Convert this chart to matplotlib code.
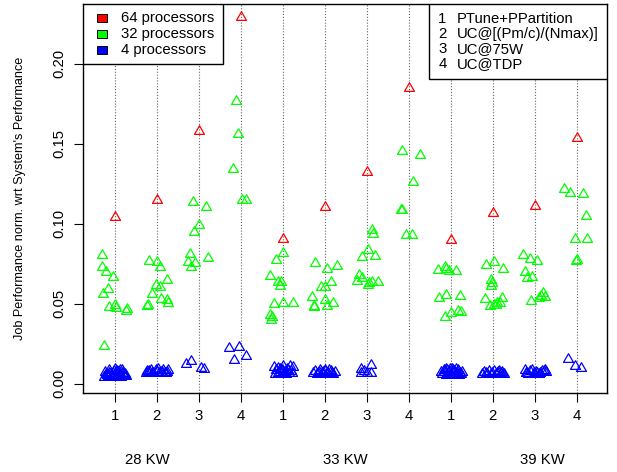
import matplotlib
matplotlib.use("Agg")
import matplotlib.pyplot as plt
from matplotlib.patches import Rectangle
from matplotlib.path import Path

plt.rcParams["font.family"] = ["Liberation Sans", "DejaVu Sans"]

# --- dados --------------------------------------------------------------------
# 12 posicoes no eixo x: (28 KW, 33 KW, 39 KW) x (config 1..4)
pos_labels = ["1", "2", "3", "4"] * 3
grupos = ["28 KW", "33 KW", "39 KW"]
grupos_x = [1.77, 6.49, 11.19]          # posicao do rotulo do grupo (em x de dados)
configs = ["PTune+PPartition", "UC@[(Pm/c)/(Nmax)]", "UC@75W", "UC@TDP"]
procs = ["64 processors", "32 processors", "4 processors"]
cores = ["#FF0000", "#00FF00", "#0000FF"]

# 64 processadores: um job por posicao
p64_val = [0.1044, 0.1148, 0.158, 0.229, 0.0904, 0.1106, 0.1325, 0.1846,
           0.0898, 0.1065, 0.1113, 0.1538]

# 32 processadores: deslocamento horizontal (jitter) e valor
p32_off = [
    [-0.29, -0.29, -0.2, -0.04, -0.16, -0.27, -0.13, 0.02, 0.03, 0.29, 0.27, -0.26],
    [-0.17, 0.01, 0.09, 0.25, -0.01, 0.09, -0.1, 0.11, 0.25, 0.27, -0.2, -0.22],
    [-0.13, 0.17, 0.0, -0.12, -0.21, 0.23, -0.25, -0.09, -0.17],
    [-0.12, -0.06, -0.18, 0.04, 0.14],
    [0.0, -0.16, -0.29, -0.12, -0.04, -0.06, -0.2, 0.0, 0.24, -0.3, -0.25, -0.28],
    [-0.23, 0.05, 0.29, -0.08, 0.02, 0.16, -0.29, 0.02, 0.2, -0.26, -0.26, 0.05],
    [0.13, 0.15, 0.03, -0.1, 0.21, -0.17, -0.1, -0.24, 0.05, 0.03, 0.13, 0.26],
    [-0.17, 0.27, 0.1, -0.18, -0.16, -0.07, 0.08],
    [-0.29, -0.13, -0.1, -0.05, 0.13, -0.12, -0.28, 0.23, 0.0, 0.18, 0.24, -0.14],
    [-0.17, 0.03, 0.25, -0.03, -0.02, -0.03, -0.18, 0.22, -0.06, 0.07, 0.11, 0.17, 0.03],
    [-0.27, -0.12, 0.05, -0.22, -0.19, -0.06, -0.1, 0.1, 0.16, 0.2, 0.25],
    [-0.3, -0.15, 0.15, 0.23, -0.03, 0.25, 0.0, -0.02],
]
p32_val = [
    [0.0806, 0.0729, 0.0698, 0.0669, 0.0594, 0.0561, 0.0481, 0.049, 0.0475, 0.0469, 0.0452, 0.0238],
    [0.0767, 0.0761, 0.0729, 0.0648, 0.0615, 0.0604, 0.0561, 0.0529, 0.0523, 0.0502, 0.049, 0.0485],
    [0.1134, 0.1102, 0.099, 0.0948, 0.0809, 0.0784, 0.0761, 0.0752, 0.0729],
    [0.1767, 0.156, 0.1344, 0.115, 0.115],
    [0.0815, 0.0773, 0.0675, 0.0634, 0.0638, 0.0613, 0.0498, 0.0506, 0.0506, 0.0429, 0.0415, 0.0398],
    [0.0752, 0.0715, 0.0736, 0.0604, 0.0604, 0.0638, 0.0544, 0.0521, 0.0506, 0.0488, 0.048, 0.0486],
    [0.0959, 0.0934, 0.0836, 0.0794, 0.0798, 0.0679, 0.0659, 0.0642, 0.0627, 0.0617, 0.0636, 0.0636],
    [0.1456, 0.1429, 0.1259, 0.1086, 0.1086, 0.0927, 0.0927],
    [0.0711, 0.0727, 0.0717, 0.0706, 0.0704, 0.0556, 0.0538, 0.0548, 0.0442, 0.0454, 0.045, 0.0418],
    [0.0742, 0.0761, 0.0717, 0.0648, 0.0627, 0.061, 0.0529, 0.0536, 0.0486, 0.0492, 0.0502, 0.0506, 0.0489],
    [0.0802, 0.0781, 0.0767, 0.07, 0.0663, 0.0669, 0.0519, 0.0534, 0.055, 0.0569, 0.0544],
    [0.1217, 0.119, 0.1188, 0.1048, 0.0904, 0.0904, 0.0771, 0.0768],
]

# 4 processadores (nuvens densas perto de zero -> valores estimados)
p4_off = [
    [-0.24, -0.2, -0.16, -0.12, -0.08, -0.04, 0.0, 0.04, 0.08, 0.12, 0.16, 0.2, 0.24, 0.28,
     -0.22, -0.18, -0.1, -0.06, -0.02, 0.02, 0.06, 0.1, 0.14, 0.18, 0.22, 0.26, -0.14, 0.0, 0.1, -0.05],
    [-0.26, -0.2, -0.14, -0.08, -0.02, 0.04, 0.1, 0.16, 0.22, 0.28, -0.23, -0.11, 0.0, 0.07, 0.13,
     0.19, 0.25, -0.17],
    [-0.3, -0.18, 0.07, 0.12],
    [-0.27, -0.03, -0.15, 0.14],
    [-0.2, -0.15, -0.1, -0.05, 0.0, 0.05, 0.1, 0.15, 0.2, 0.25, -0.17, -0.07, 0.03, 0.12, 0.22,
     -0.12, 0.0, 0.08, -0.02, 0.18],
    [-0.27, -0.22, -0.16, -0.1, -0.04, 0.02, 0.08, 0.14, 0.2, 0.25, -0.19, -0.07, 0.05, 0.11, 0.17,
     -0.13, 0.0],
    [-0.14, 0.11, -0.14, 0.02, 0.11, -0.06],
    [],
    [-0.22, -0.17, -0.12, -0.07, -0.02, 0.03, 0.08, 0.13, 0.18, 0.23, 0.28, -0.2, -0.1, 0.0, 0.1,
     0.2, -0.15, -0.05, 0.05, 0.15, 0.25, -0.08, 0.06, 0.12],
    [-0.26, -0.2, -0.14, -0.08, -0.02, 0.04, 0.1, 0.16, 0.22, 0.28, -0.17, -0.05, 0.07, 0.13, 0.19, 0.25],
    [-0.24, -0.18, -0.12, -0.06, 0.0, 0.06, 0.12, 0.18, 0.24, 0.28, -0.15, -0.02, 0.09, 0.21, -0.21, 0.03],
    [-0.22, -0.05, 0.1],
]
p4_val = [
    [0.0045, 0.006, 0.005, 0.0085, 0.004, 0.0065, 0.009, 0.0048, 0.0072, 0.0088, 0.0042, 0.0068,
     0.0055, 0.0047, 0.0075, 0.0052, 0.0062, 0.0043, 0.0078, 0.0058, 0.0082, 0.0046, 0.0064, 0.0085,
     0.005, 0.006, 0.007, 0.0044, 0.0053, 0.0057],
    [0.0068, 0.0072, 0.0088, 0.007, 0.0085, 0.0092, 0.0075, 0.0087, 0.007, 0.0086, 0.0078, 0.0067,
     0.0074, 0.0069, 0.0072, 0.0068, 0.0071, 0.0079],
    [0.0121, 0.0142, 0.0096, 0.0094],
    [0.0221, 0.0228, 0.0148, 0.0173],
    [0.0105, 0.0085, 0.0065, 0.009, 0.0108, 0.0075, 0.0095, 0.0068, 0.0078, 0.0102, 0.0062, 0.0072,
     0.0062, 0.0085, 0.0068, 0.0098, 0.0078, 0.006, 0.0088, 0.0112],
    [0.0065, 0.0082, 0.0068, 0.0088, 0.0072, 0.0085, 0.0066, 0.0078, 0.0062, 0.0072, 0.0062, 0.0064,
     0.0061, 0.0087, 0.007, 0.0075, 0.008],
    [0.0095, 0.0115, 0.007, 0.007, 0.007, 0.0078],
    [],
    [0.0072, 0.0088, 0.0095, 0.0065, 0.009, 0.0094, 0.0078, 0.0092, 0.0085, 0.0068, 0.0072, 0.0058,
     0.0055, 0.0062, 0.0057, 0.0055, 0.0076, 0.0082, 0.0072, 0.0068, 0.0058, 0.0086, 0.0088, 0.0064],
    [0.0062, 0.0075, 0.0062, 0.0078, 0.0065, 0.0079, 0.0068, 0.008, 0.0072, 0.0062, 0.0064, 0.0062,
     0.0062, 0.0075, 0.0065, 0.0063],
    [0.0088, 0.0065, 0.0082, 0.0085, 0.0062, 0.0068, 0.0066, 0.0078, 0.0088, 0.0072, 0.0062, 0.0064,
     0.0063, 0.008, 0.0068, 0.0075],
    [0.0154, 0.0113, 0.01],
]

# --- grafico ------------------------------------------------------------------
# triangulo equilatero fechado (equivalente ao pch=2 do R)
TRI = Path([(0, 1), (-0.866, -0.5), (0.866, -0.5), (0, 1)],
           [Path.MOVETO, Path.LINETO, Path.LINETO, Path.CLOSEPOLY])
MS = 8.3
FS = 10.7

fig = plt.figure(figsize=(6.17, 4.72), dpi=100)
ax = fig.add_axes([83 / 617, 1 - 393 / 472, 524 / 617, 389 / 472])

xs = list(range(1, len(pos_labels) + 1))
for x in xs:
    ax.axvline(x, color="#666666", ls=(0, (1, 1.6)), lw=0.8, zorder=0)


def desenha(offs, vals, cor):
    px, py = [], []
    for i, (oo, vv) in enumerate(zip(offs, vals)):
        px += [xs[i] + o for o in oo]
        py += list(vv)
    ax.plot(px, py, ls="none", marker=TRI, ms=MS, mfc="none", mec=cor, mew=0.9, zorder=2)


desenha(p4_off, p4_val, cores[2])
desenha(p32_off, p32_val, cores[1])
desenha([[0.0]] * len(p64_val), [[v] for v in p64_val], cores[0])

ax.set_xlim(0.25, 12.72)
ax.set_ylim(-0.0058, 0.2373)
ax.set_xticks(xs)
ax.set_xticklabels(pos_labels, fontsize=FS)
ax.set_yticks([0.0, 0.05, 0.10, 0.15, 0.20])
ax.set_yticklabels(["0.00", "0.05", "0.10", "0.15", "0.20"], fontsize=FS)
for lbl in ax.get_yticklabels():
    lbl.set_rotation(90)
    lbl.set_va("center")
ax.tick_params(axis="x", length=6.3, width=0.8, pad=5)
ax.tick_params(axis="y", length=6.3, width=0.8, pad=6)
for s in ax.spines.values():
    s.set_linewidth(1.0)

ax.set_ylabel("Job Performance norm. wrt System's Performance", fontsize=9.1)
ax.yaxis.set_label_coords(-0.108, 0.5)

for g, gx in zip(grupos, grupos_x):
    ax.text(gx, -0.173, g, transform=ax.get_xaxis_transform(), ha="center", va="center",
            fontsize=FS)

# legenda 1: processadores (caixa no canto superior esquerdo)
ax.add_patch(Rectangle((0, 0.846), 0.267, 0.154, transform=ax.transAxes, fc="white",
                       ec="black", lw=1.0, zorder=5))
for i, (nome, cor) in enumerate(zip(procs, cores)):
    yy = 0.964 - i * 0.0405
    ax.add_patch(Rectangle((0.026, yy - 0.0103), 0.0205, 0.0206, transform=ax.transAxes,
                           fc=cor, ec="black", lw=0.7, zorder=6))
    ax.text(0.0725, yy, nome, transform=ax.transAxes, va="center", ha="left",
            fontsize=FS, zorder=6)

# legenda 2: configuracoes (canto superior direito)
ax.add_patch(Rectangle((0.66, 0.807), 0.34, 0.193, transform=ax.transAxes, fc="white",
                       ec="black", lw=1.0, zorder=5))
for i, nome in enumerate(configs):
    yy = 0.9614 - i * 0.0388
    ax.text(0.6857, yy, str(i + 1), transform=ax.transAxes, va="center", ha="center",
            fontsize=FS, zorder=6)
    ax.text(0.7132, yy, nome, transform=ax.transAxes, va="center", ha="left",
            fontsize=FS, zorder=6)

fig.savefig("out.png", dpi=100)
